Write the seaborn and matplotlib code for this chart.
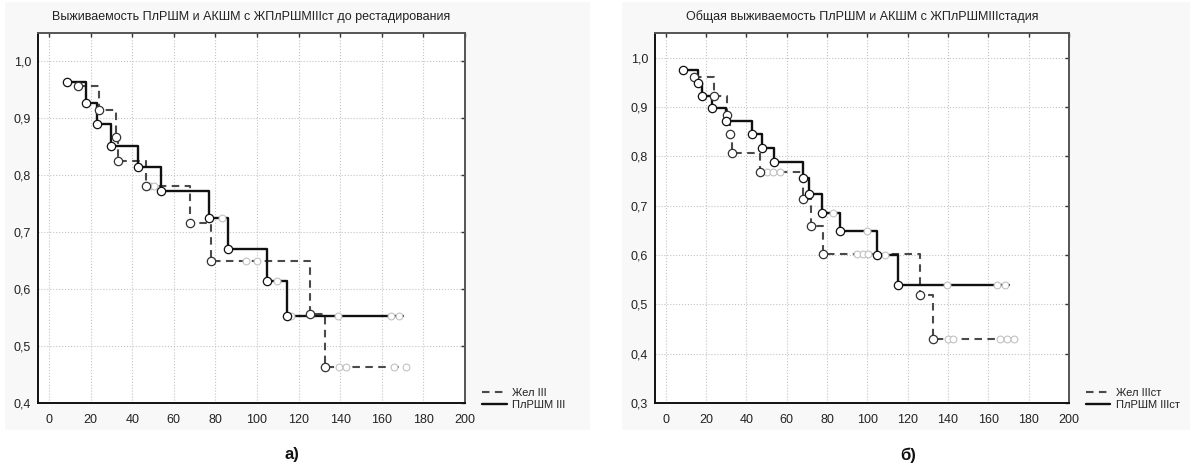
import numpy as np
import pandas as pd
import matplotlib
matplotlib.use("Agg")
import matplotlib.pyplot as plt
from matplotlib.patches import Rectangle
from matplotlib.lines import Line2D
from matplotlib.ticker import FuncFormatter
import seaborn as sns

# ---------------- data ----------------
# Panel a)
a_title = "Выживаемость ПлРШМ и АКШМ с ЖПлРШМIIIст до рестадирования"
a_solid_label = "ПлРШМ III"
a_dash_label = "Жел III"
a_solid_t = [8.8, 17.6, 22.9, 29.7, 42.8, 53.7, 76.9, 85.9, 104.7, 114.5]
a_solid_s = [0.964, 0.927, 0.890, 0.851, 0.814, 0.772, 0.725, 0.670, 0.614, 0.552]
a_solid_cens = [83.3, 109.5, 116.4, 138.8, 164.4, 168.3]
a_solid_end = 170.0
a_dash_t = [13.8, 24.1, 32.0, 33.0, 46.5, 68.0, 77.7, 125.5, 132.9]
a_dash_s = [0.957, 0.914, 0.868, 0.825, 0.781, 0.717, 0.650, 0.557, 0.464]
a_dash_cens = [48.5, 50.5, 94.8, 100.2, 139.6, 143.0, 166.0, 171.5]
a_dash_end = 172.0

# Panel б)
b_title = "Общая выживаемость ПлРШМ и АКШМ с ЖПлРШМIIIстадия"
b_solid_label = "ПлРШМ IIIст"
b_dash_label = "Жел IIIст"
b_solid_t = [8.7, 15.9, 18.2, 22.8, 29.8, 43.0, 47.6, 53.9, 68.3, 71.1, 77.4, 86.2, 105.0, 115.0]
b_solid_s = [0.974, 0.948, 0.922, 0.898, 0.871, 0.846, 0.817, 0.788, 0.757, 0.723, 0.686, 0.648, 0.600, 0.540]
b_solid_cens = [83.2, 99.8, 108.8, 139.5, 164.5, 168.5]
b_solid_end = 170.0
b_dash_t = [14.2, 24.1, 30.3, 32.1, 32.7, 46.8, 68.0, 72.0, 77.9, 126.2, 132.8]
b_dash_s = [0.960, 0.922, 0.884, 0.846, 0.807, 0.768, 0.714, 0.658, 0.602, 0.518, 0.430]
b_dash_cens = [50.0, 53.0, 56.5, 95.0, 98.0, 100.5, 140.0, 142.5, 166.0, 169.5, 172.5]
b_dash_end = 173.0

x_ticks = [0, 20, 40, 60, 80, 100, 120, 140, 160, 180, 200]
a_y_ticks = [0.4, 0.5, 0.6, 0.7, 0.8, 0.9, 1.0]
b_y_ticks = [0.3, 0.4, 0.5, 0.6, 0.7, 0.8, 0.9, 1.0]
panel_letters = ["а)", "б)"]

# ---------------- styling ----------------
sns.set_style("white")
plt.rcParams["font.family"] = ["Liberation Sans", "DejaVu Sans"]

fig = plt.figure(figsize=(11.9, 4.7), dpi=100)
fig.patch.set_facecolor("white")
bg = "#f8f8f8"
fig.patches.append(Rectangle((5 / 1190, 1 - 430 / 470), 585 / 1190, 428 / 470,
                             transform=fig.transFigure, facecolor=bg, edgecolor="none", zorder=-10))
fig.patches.append(Rectangle((622 / 1190, 1 - 430 / 470), 568 / 1190, 428 / 470,
                             transform=fig.transFigure, facecolor=bg, edgecolor="none", zorder=-10))

ax_a = fig.add_axes([38 / 1190, 1 - 403 / 470, 427 / 1190, 370 / 470])
ax_b = fig.add_axes([655 / 1190, 1 - 403 / 470, 414 / 1190, 370 / 470])

comma = FuncFormatter(lambda v, p: f"{v:.1f}".replace(".", ","))
dash_style = (0, (3.6, 2.6))


def step_frame(t, s, end):
    return pd.DataFrame({"t": list(t) + [end], "s": list(s) + [s[-1]]})


def draw_panel(ax, title, st, ss, scens, send, dt, ds, dcens, dend, slabel, dlabel, yticks, ylim):
    ax.set_facecolor("white")
    # step lines
    dfd = step_frame(dt, ds, dend)
    sns.lineplot(data=dfd, x="t", y="s", ax=ax, estimator=None, sort=False,
                 drawstyle="steps-post", color="#4a4a4a", lw=1.5, linestyle=dash_style, zorder=3)
    dfs = step_frame(st, ss, send)
    sns.lineplot(data=dfs, x="t", y="s", ax=ax, estimator=None, sort=False,
                 drawstyle="steps-post", color="#111111", lw=1.7, zorder=4)
    # censored marks
    def level_at(t, s, x):
        idx = np.searchsorted(np.asarray(t), x, side="right") - 1
        return s[max(idx, 0)]
    dc = pd.DataFrame({"t": dcens, "s": [level_at(dt, ds, x) for x in dcens]})
    sc = pd.DataFrame({"t": scens, "s": [level_at(st, ss, x) for x in scens]})
    for df in (dc, sc):
        sns.scatterplot(data=df, x="t", y="s", ax=ax, marker="o", s=24,
                        facecolor="white", edgecolor="#c2c2c2", linewidth=0.8, zorder=5)
    # complete events
    sns.scatterplot(x=dt, y=ds, ax=ax, marker="o", s=36, facecolor="white",
                    edgecolor="#333333", linewidth=0.9, zorder=6)
    sns.scatterplot(x=st, y=ss, ax=ax, marker="o", s=36, facecolor="white",
                    edgecolor="#111111", linewidth=0.9, zorder=7)

    ax.set_xlim(-5.3, 200)
    ax.set_ylim(*ylim)
    ax.set_xticks(x_ticks)
    ax.set_yticks(yticks)
    ax.yaxis.set_major_formatter(comma)
    ax.set_xlabel("")
    ax.set_ylabel("")
    ax.grid(True, linestyle=":", color="#c4c4c4", linewidth=0.8)
    ax.tick_params(direction="in", top=True, right=True, labeltop=False, labelright=False,
                   length=3, width=1.0, color="#333333", labelsize=9, pad=5, labelcolor="#222222")
    ax.tick_params(axis="x", pad=8)
    for side in ("left", "bottom"):
        ax.spines[side].set_color("#111111")
        ax.spines[side].set_linewidth(1.4)
    for side in ("top", "right"):
        ax.spines[side].set_color("#555555")
        ax.spines[side].set_linewidth(1.4)
    ax.set_title(title, fontsize=9, color="#222222", pad=9)

    handles = [Line2D([0], [0], color="#4a4a4a", lw=1.5, linestyle=dash_style),
               Line2D([0], [0], color="#111111", lw=1.7)]
    leg = ax.legend(handles, [dlabel, slabel], loc="lower left", bbox_to_anchor=(1.03, -0.03),
                    frameon=False, fontsize=8, handlelength=2.2, handletextpad=0.5,
                    labelspacing=0.15, borderaxespad=0)
    for txt in leg.get_texts():
        txt.set_color("#222222")


draw_panel(ax_a, a_title, a_solid_t, a_solid_s, a_solid_cens, a_solid_end,
           a_dash_t, a_dash_s, a_dash_cens, a_dash_end, a_solid_label, a_dash_label,
           a_y_ticks, (0.4, 1.05))
draw_panel(ax_b, b_title, b_solid_t, b_solid_s, b_solid_cens, b_solid_end,
           b_dash_t, b_dash_s, b_dash_cens, b_dash_end, b_solid_label, b_dash_label,
           b_y_ticks, (0.3, 1.05))

fig.text(292 / 1190, 1 - 455 / 470, panel_letters[0], ha="center", va="center",
         fontsize=12, fontweight="bold", color="#111111")
fig.text(908 / 1190, 1 - 455 / 470, panel_letters[1], ha="center", va="center",
         fontsize=12, fontweight="bold", color="#111111")

fig.savefig("out.png", dpi=100, facecolor=fig.get_facecolor())
